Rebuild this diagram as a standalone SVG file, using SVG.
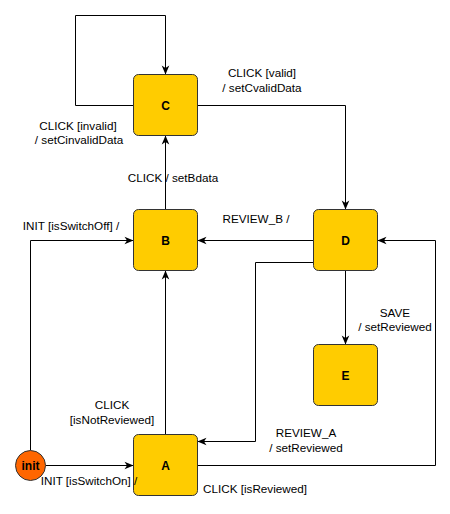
<svg xmlns="http://www.w3.org/2000/svg" width="450" height="514" viewBox="0 0 450 514">
<style>
.st{fill:#FFCC00;stroke:#333333;stroke-width:1}
.nl{font-family:"Liberation Sans",Arial,sans-serif;font-size:12px;font-weight:bold;fill:#000;text-anchor:middle}
.el{font-family:"Liberation Sans",Arial,sans-serif;font-size:11.7px;fill:#000;text-anchor:middle}
.ln{fill:none;stroke:#000;stroke-width:1}
</style>
<defs>
<marker id="arr" markerUnits="userSpaceOnUse" markerWidth="10" markerHeight="10" refX="10" refY="5" orient="auto" viewBox="0 0 10 10">
<path d="M1,1.2 L10,5 L1,8.8 L3.5,5 Z" fill="#000"/>
</marker>
</defs>
<rect width="450" height="514" fill="#fff"/>
<g id="connectors">
<path class="ln" d="M133.5,105.5 H75.5 V15.5 H165.5 V74.5" marker-end="url(#arr)"/>
<path class="ln" d="M197.5,105.5 H345.5 V209.5" marker-end="url(#arr)"/>
<path class="ln" d="M165.5,209.5 V135.5" marker-end="url(#arr)"/>
<path class="ln" d="M313.5,240.5 H197.5" marker-end="url(#arr)"/>
<path class="ln" d="M313.5,262.5 H255.5 V441.5 H197.5" marker-end="url(#arr)"/>
<path class="ln" d="M197.5,465.5 H435.5 V240.5 H377.5" marker-end="url(#arr)"/>
<path class="ln" d="M345.5,270.5 V344.5" marker-end="url(#arr)"/>
<path class="ln" d="M165.5,434.5 V270.5" marker-end="url(#arr)"/>
<path class="ln" d="M45.5,465.5 H133.5" marker-end="url(#arr)"/>
<path class="ln" d="M30.5,450.5 V240.5 H133.5" marker-end="url(#arr)"/>
</g>
<g id="C"><rect class="st" x="133.5" y="74.5" width="64" height="61" rx="5"/><text class="nl" x="165.5" y="110">C</text></g>
<g id="B"><rect class="st" x="133.5" y="209.5" width="64" height="61" rx="5"/><text class="nl" x="165.5" y="245">B</text></g>
<g id="D"><rect class="st" x="313.5" y="209.5" width="64" height="61" rx="5"/><text class="nl" x="345.5" y="245">D</text></g>
<g id="E"><rect class="st" x="313.5" y="344.5" width="64" height="61" rx="5"/><text class="nl" x="345.5" y="380">E</text></g>
<g id="A"><rect class="st" x="133.5" y="434.5" width="64" height="61" rx="5"/><text class="nl" x="165.5" y="470">A</text></g>
<g id="init"><circle cx="30.5" cy="465.5" r="15" fill="#FF6600" stroke="#333333"/><text class="nl" x="30.5" y="470">init</text></g>
<g id="connector-labels">
<text class="el" x="78" y="130">CLICK [invalid]</text>
<text class="el" x="79" y="144">/ setCinvalidData</text>
<text class="el" x="262" y="77">CLICK [valid]</text>
<text class="el" x="262" y="92">/ setCvalidData</text>
<text class="el" x="173" y="182">CLICK / setBdata</text>
<text class="el" x="256" y="223">REVIEW_B /</text>
<text class="el" x="306" y="437">REVIEW_A</text>
<text class="el" x="306" y="452">/ setReviewed</text>
<text class="el" x="255" y="493">CLICK [isReviewed]</text>
<text class="el" x="395" y="317">SAVE</text>
<text class="el" x="395" y="331">/ setReviewed</text>
<text class="el" x="112" y="409">CLICK</text>
<text class="el" x="112" y="424">[isNotReviewed]</text>
<text class="el" x="89" y="485">INIT [isSwitchOn] /</text>
<text class="el" x="71" y="230">INIT [isSwitchOff] /</text>
</g>
</svg>
